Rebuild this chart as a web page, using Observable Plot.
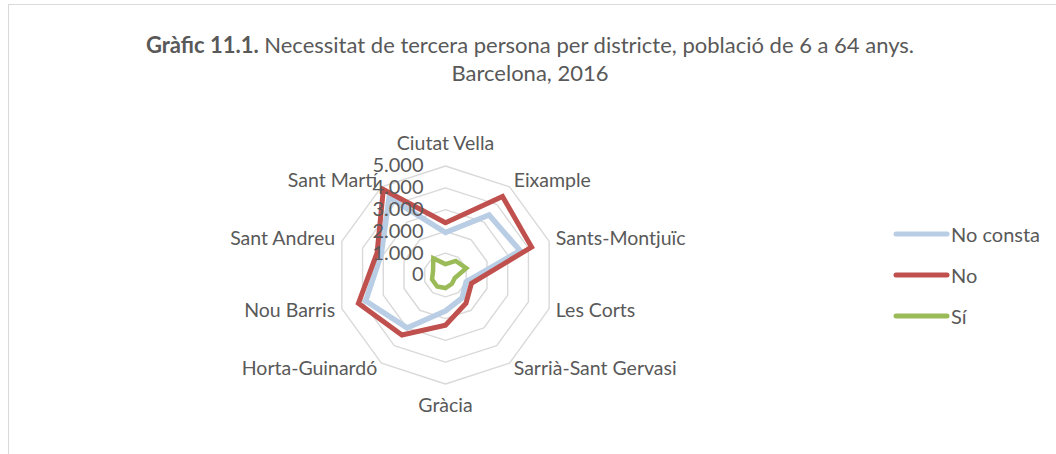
<!DOCTYPE html>
<html>
<head>
<meta charset="utf-8">
<script src="https://cdn.jsdelivr.net/npm/d3@7"></script>
<script src="https://cdn.jsdelivr.net/npm/@observablehq/plot@0.6"></script>
<style>
  html, body { margin: 0; padding: 0; background: #ffffff; }
  body { width: 1056px; height: 454px; overflow: hidden; position: relative; font-family: Lato, "Open Sans", sans-serif; }
  #frame { position: absolute; left: 8px; top: 4px; width: 1060px; height: 460px; border-left: 1px solid #D9D9D9; border-top: 1px solid #D9D9D9; box-sizing: border-box; }
  #title { position: absolute; left: 0; top: 31px; width: 1060px; text-align: center; color: #595959; font-size: 22px; line-height: 28px; }
  #title b { font-weight: bold; }
  #chart { position: absolute; left: 0; top: 0; }
  #legend { position: absolute; left: 893px; top: 213px; color: #595959; font-size: 20px; }
  .item { display: flex; align-items: center; height: 41px; }
  .item svg { margin-right: 1px; }
</style>
</head>
<body>
<div id="frame"></div>
<div id="title"><b>Gràfic 11.1.</b> Necessitat de tercera persona per districte, població de 6 a 64 anys.<br>Barcelona, 2016</div>
<div id="chart"></div>
<div id="legend"></div>
<script>
// ---- data ----
const categories = ["Ciutat Vella","Eixample","Sants-Montjuïc","Les Corts","Sarrià-Sant Gervasi","Gràcia","Horta-Guinardó","Nou Barris","Sant Andreu","Sant Martí"];
const noConsta = [1950, 3400, 3600, 1000, 1300, 1650, 3000, 3850, 3100, 4400];
const no       = [2400, 4450, 4150, 1250, 1600, 2300, 3400, 4200, 3300, 4850];
const si       = [500, 800, 1000, 450, 500, 600, 650, 650, 600, 950];
const tickValues = [0, 1000, 2000, 3000, 4000, 5000];
const tickLabels = ["0", "1.000", "2.000", "3.000", "4.000", "5.000"];
const seriesNames = ["No consta", "No", "Sí"];
const seriesColors = ["#B9CDE5", "#C0504D", "#9BBB59"];
const seriesWidths = [5.5, 5, 4.5];

// ---- geometry helpers ----
const n = categories.length;
const ang = i => (2 * Math.PI * i) / n;
const px = (r, i) => r * Math.sin(ang(i));
const py = (r, i) => r * Math.cos(ang(i));

const W = 1056, H = 454;
const cx = 445, cy = 274.5, Rpx = 109, Rmax = 5000;
const k = Rpx / Rmax; // px per unit

// rings
const rings = [];
tickValues.slice(1).forEach(t => {
  for (let i = 0; i <= n; i++) rings.push({t, x: px(t, i % n), y: py(t, i % n)});
});

// series
const seriesData = [noConsta, no, si];
const lines = [];
seriesData.forEach((vals, s) => {
  for (let i = 0; i <= n; i++) {
    const v = vals[i % n];
    lines.push({s: seriesNames[s], x: px(v, i % n), y: py(v, i % n)});
  }
});

// category labels
const sideR = Rmax + 7 / k;
const catLabels = categories.map((c, i) => {
  const s = Math.sin(ang(i)), co = Math.cos(ang(i));
  const pole = Math.abs(s) < 0.1;
  const r = pole ? Rmax : sideR;
  return {
    c, x: px(r, i), y: py(r, i),
    anchor: s > 0.1 ? "start" : s < -0.1 ? "end" : "middle",
    pos: co > 0.95 ? "top" : co < -0.95 ? "bottom" : "side"
  };
});

const tickData = tickValues.map((t, j) => ({t, label: tickLabels[j]}));
const labelStyle = {x: "x", y: "y", text: "c", fontSize: 19.5, fill: "#595959", lineAnchor: "middle"};

const plot = Plot.plot({
  width: W, height: H,
  margin: 0,
  x: {domain: [-cx / k, (W - cx) / k], axis: null},
  y: {domain: [-(H - cy) / k, cy / k], axis: null},
  style: {fontFamily: "Lato, 'Open Sans', sans-serif", background: "transparent"},
  marks: [
    Plot.line(rings, {x: "x", y: "y", z: "t", stroke: "#D9D9D9", strokeWidth: 1.4}),
    ...seriesNames.map((name, s) =>
      Plot.line(lines.filter(d => d.s === name), {x: "x", y: "y", stroke: seriesColors[s], strokeWidth: seriesWidths[s], strokeLinejoin: "miter", strokeMiterlimit: 10})
    ),
    Plot.text(tickData, {x: 0, y: "t", text: "label", textAnchor: "end", dx: -22, fontSize: 20, fill: "#595959"}),
    Plot.text(catLabels.filter(d => d.pos === "top"), {...labelStyle, textAnchor: "middle", dy: -22}),
    Plot.text(catLabels.filter(d => d.pos === "bottom"), {...labelStyle, textAnchor: "middle", dy: 22}),
    Plot.text(catLabels.filter(d => d.pos === "side" && d.anchor === "start"), {...labelStyle, textAnchor: "start"}),
    Plot.text(catLabels.filter(d => d.pos === "side" && d.anchor === "end"), {...labelStyle, textAnchor: "end"})
  ]
});
document.getElementById("chart").appendChild(plot);

// legend
const leg = document.getElementById("legend");
seriesNames.forEach((name, s) => {
  const it = document.createElement("div");
  it.className = "item";
  it.innerHTML = `<svg width="57" height="8"><line x1="3" y1="4" x2="54" y2="4" stroke="${seriesColors[s]}" stroke-width="5" stroke-linecap="round"/></svg><span>${name}</span>`;
  leg.appendChild(it);
});
</script>
</body>
</html>
